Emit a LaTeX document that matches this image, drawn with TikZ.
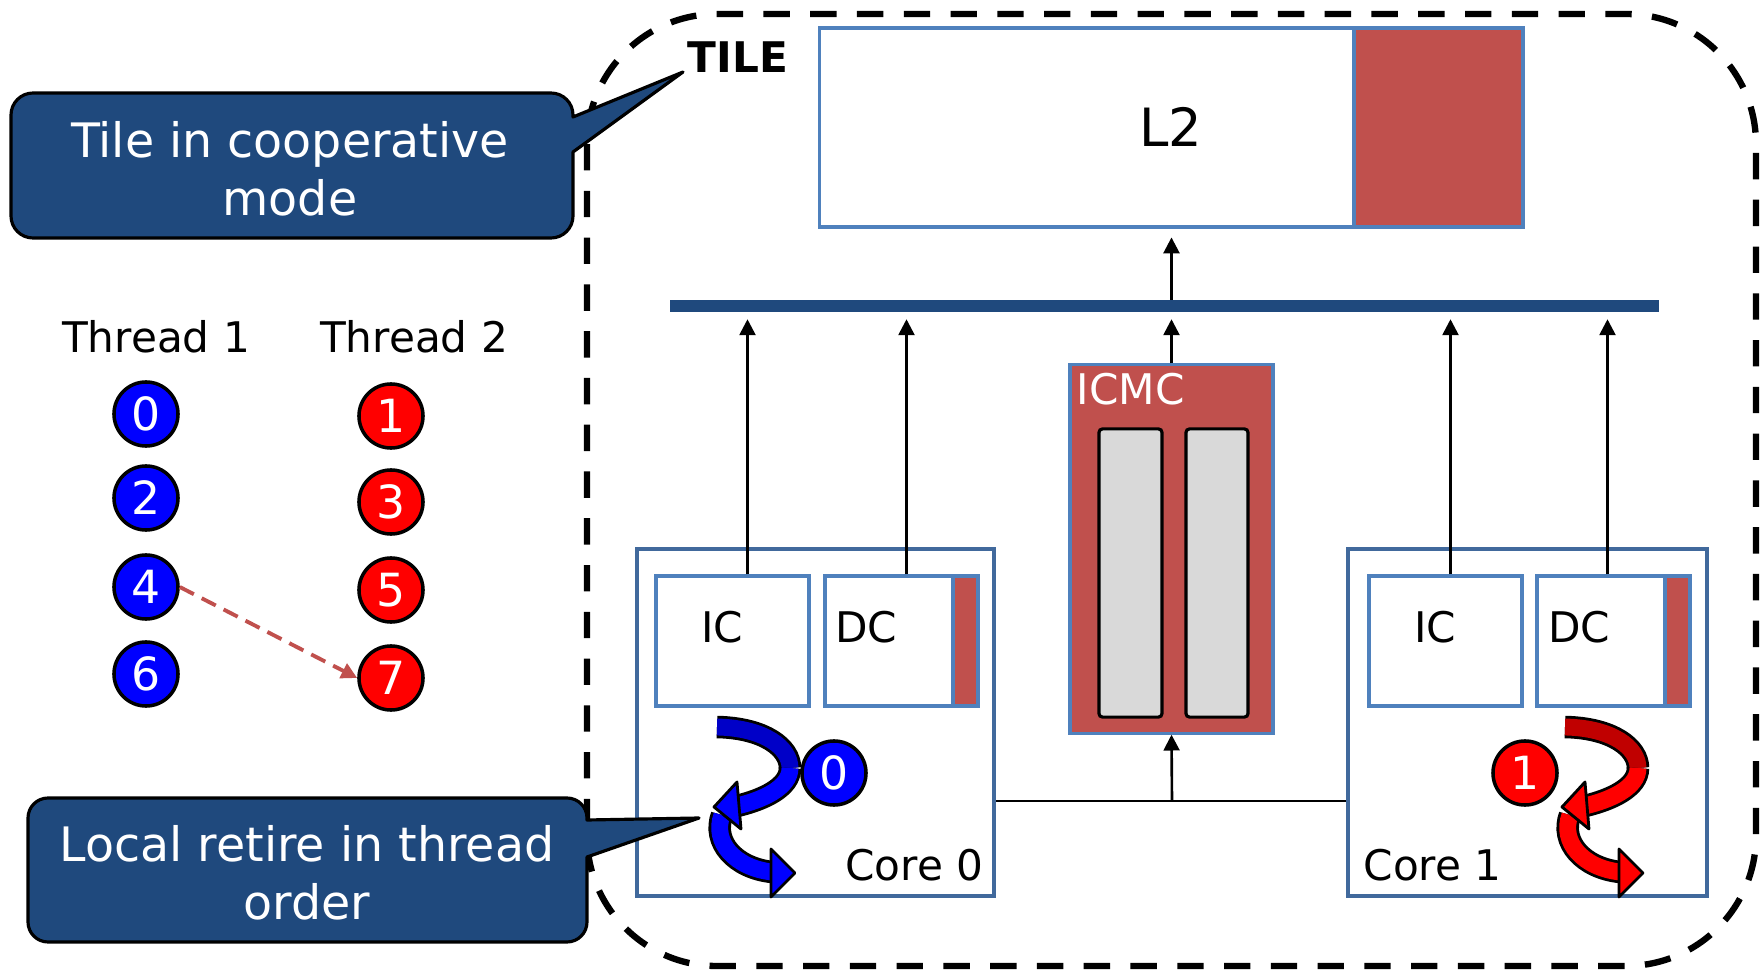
\documentclass[tikz,border=0pt]{standalone}
\usepackage{fontspec}
\setmainfont{DejaVu Sans}
\usetikzlibrary{arrows.meta,calc}
\definecolor{calloutblue}{HTML}{1F497D}
\definecolor{busblue}{HTML}{1F497D}
\definecolor{frameblue}{HTML}{4F81BD}
\definecolor{coreblue}{HTML}{41699C}
\definecolor{brick}{HTML}{C0504D}
\definecolor{bargray}{HTML}{D9D9D9}
\definecolor{darkblue}{HTML}{0000C8}
\definecolor{darkred}{HTML}{C00000}
\tikzset{
  txt/.style={font=\fontsize{12}{14}\selectfont},
  tileframe/.style={line width=1.8pt, dash pattern=on 7.5pt off 5.8pt, rounded corners=1.3cm},
  cachebox/.style={draw=frameblue, line width=0.9pt, inner sep=0pt},
  corebox/.style={draw=coreblue, line width=1.15pt, inner sep=0pt},
  bar/.style={draw=black, fill=bargray, line width=0.9pt, rounded corners=1pt, inner sep=0pt},
  conn/.style={line width=0.75pt},
  ball/.style={circle, draw=black, line width=1pt, minimum size=0.64cm, inner sep=0pt,
    text=white, font=\fontsize{13}{15}\selectfont},
  blueball/.style={ball, fill=blue},
  redball/.style={ball, fill=red},
  callout/.style={fill=calloutblue, draw=black, line width=0.9pt, line join=round},
  callouttxt/.style={text=white, align=center, font=\fontsize{13.5}{16.5}\selectfont},
  ribbon/.style={double=#1, double distance=4.8pt, line width=0.8pt},
  ribbonhead/.style={fill=#1, draw=black, line width=0.8pt, line join=round}
}
% curled retire arrow of a core
\newcommand{\retirearrow}[3]{%
\begin{scope}[shift={(#1,0)}]
\draw [ribbon=#3] (722,815) .. controls (712,842) and (735,868) .. (772,872);
\filldraw [ribbonhead=#3] (771,849) -- (795,873) -- (771,897) -- cycle;
\draw [ribbon=#2] (717,727) .. controls (765,728) and (790,748) .. (790,768);
\draw [ribbon=#3] (790,768) .. controls (790,788) and (762,800) .. (737,806);
\filldraw [ribbonhead=#3] (737,782) -- (714,807) -- (741,829) -- cycle;
\end{scope}}

\begin{document}
\begin{tikzpicture}[x=0.01cm, y=-0.01cm, >={Triangle[length=4.5pt,width=4.5pt]}]
\useasboundingbox (0,0) rectangle (1762,973);

% tile
\draw [tileframe] (587,14) rectangle (1756,966);
\node [font=\bfseries\fontsize{12}{14}\selectfont] (tile) at (738,57) {TILE};

% L2 and bus
\node [cachebox, minimum width=7.03cm, minimum height=1.99cm] (l2) at (1171.5,127.5) {};
\filldraw [fill=brick, draw=frameblue, line width=0.9pt] (1354,28) rectangle (1523,227);
\node [font=\fontsize{15}{18}\selectfont] (l2txt) at (1171,127) {L2};
\node [fill=busblue, inner sep=0pt, minimum width=9.89cm, minimum height=0.11cm] (bus) at (1164.5,306) {};
\draw [conn, ->, shorten >=2.5pt] (bus.north -| l2.south) -- (l2.south);

% cores
\node [corebox, minimum width=3.57cm, minimum height=3.47cm] (core0) at (815.5,722.5) {};
\node [corebox, minimum width=3.59cm, minimum height=3.47cm] (core1) at (1527.5,722.5) {};
\node [cachebox, minimum width=1.53cm, minimum height=1.30cm] (ic0) at (732.5,641) {};
\node [cachebox, minimum width=1.53cm, minimum height=1.30cm] (dc0) at (901.5,641) {};
\node [cachebox, minimum width=1.53cm, minimum height=1.30cm] (ic1) at (1445.5,641) {};
\node [cachebox, minimum width=1.53cm, minimum height=1.30cm] (dc1) at (1613.5,641) {};
\filldraw [fill=brick, draw=frameblue, line width=0.9pt] (953,576) rectangle (978,706);
\filldraw [fill=brick, draw=frameblue, line width=0.9pt] (1665,576) rectangle (1690,706);
\node [txt] (ic0txt) at (722,627) {IC};
\node [txt] (dc0txt) at (866,627) {DC};
\node [txt] (ic1txt) at (1435,627) {IC};
\node [txt] (dc1txt) at (1579,627) {DC};
\node [txt, anchor=east, inner sep=0pt] (core0txt) at (984,865) {Core 0};
\node [txt, anchor=west, inner sep=0pt] (core1txt) at (1363,865) {Core 1};

% ICMC
\node [fill=brick, draw=frameblue, line width=0.9pt, minimum width=2.03cm, minimum height=3.68cm] (icmc) at (1171.5,549) {};
\node [txt, anchor=west, inner sep=0pt, text=white] (icmctxt) at (1076,389) {ICMC};
\node [bar, minimum width=0.63cm, minimum height=2.88cm] (bar1) at (1130.5,573) {};
\node [bar, minimum width=0.62cm, minimum height=2.88cm] (bar2) at (1217,573) {};

% connections
\foreach \n/\dx in {ic0/15,dc0/5,icmc/0,ic1/5,dc1/-6}{
  \coordinate (s) at ($(\n.north)+(\dx,0)$);
  \draw [conn, ->, shorten >=2pt] (s) -- (s |- bus.south);
}
\coordinate (link) at (1172,801);
\draw [conn] (core0.east |- link) -- (core1.west |- link);
\draw [conn, ->] (link) -- (icmc.south);

% threads
\node [txt] (th1) at (156,337) {Thread 1};
\node [txt] (th2) at (414,337) {Thread 2};
\foreach \k/\y in {0/414,2/498,4/587,6/674}
  \node [blueball] (n\k) at (146,\y) {\k};
\foreach \k/\y in {1/416,3/502,5/590,7/678}
  \node [redball] (n\k) at (391,\y) {\k};
\draw [brick, line width=1.1pt, dash pattern=on 4.5pt off 2.5pt, ->] (n4.east) -- (n7.west);

% retire in cores
\node [blueball] (r0) at (834,773) {0};
\node [redball] (r1) at (1525,773) {1};
\retirearrow{0}{darkblue}{blue}
\retirearrow{848}{darkred}{red}

% callouts
\draw [callout] (573,152) -- (683,72) -- (573,117) [rounded corners=0.22cm] -- (573,93) -- (11,93) -- (11,238) -- (573,238) [sharp corners] -- cycle;
\node [callouttxt] (coop) at (290,169) {Tile in cooperative\\mode};
\draw [callout] (587,857) -- (699,818) -- (587,820) [rounded corners=0.2cm] -- (587,798) -- (28,798) -- (28,942) -- (587,942) [sharp corners] -- cycle;
\node [callouttxt] (retire) at (307,873) {Local retire in thread\\order};
\end{tikzpicture}
\end{document}
